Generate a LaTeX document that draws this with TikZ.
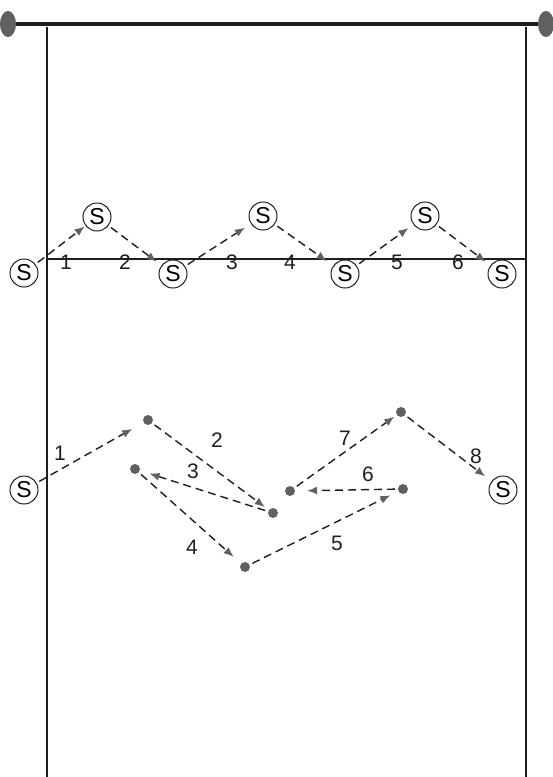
\documentclass[tikz,border=0pt]{standalone}
\usepackage{fontspec}
\setmainfont{Liberation Sans}
\usetikzlibrary{arrows.meta}
\definecolor{dotgray}{HTML}{606060}
\definecolor{tipgray}{HTML}{606060}
\definecolor{linedark}{HTML}{1E1E1E}
\begin{document}
\begin{tikzpicture}[x=1pt,y=-1pt,
  splayer/.style={circle,draw=linedark,line width=1pt,minimum size=28pt,inner sep=0pt,font=\fontsize{23}{23}\selectfont},
  dot/.style={circle,fill=dotgray,minimum size=10pt,inner sep=0pt},
  pass/.style={dash pattern=on 8pt off 5pt,line width=1.4pt,draw=linedark,
    -{Latex[length=10pt,width=8pt,color=tipgray]},shorten <=3pt},
  num/.style={font=\fontsize{21}{21}\selectfont,text=linedark,inner sep=0pt},
  court/.style={draw=linedark,line width=1.2pt}]
\useasboundingbox (0,0) rectangle (552,777);
% net
\draw[line width=4pt,draw=linedark] (8,24) -- (546,24);
\fill[dotgray] (8,24) ellipse (8 and 13);
\fill[dotgray] (546,24) ellipse (8 and 13);
% sidelines and attack line
\draw[court] (47,27) -- (47,777);
\draw[court] (526,27) -- (526,777);
\draw[court,line width=1.5pt] (47,259) -- (526,259);
% top row players
\node[splayer] (t1) at (24,273) {S};
\node[splayer] (t2) at (97,217) {S};
\node[splayer] (t3) at (173,274) {S};
\node[splayer] (t4) at (263,216) {S};
\node[splayer] (t5) at (345,274) {S};
\node[splayer] (t6) at (425,216) {S};
\node[splayer] (t7) at (502,274) {S};
\draw[pass,shorten >=1pt] (t1) -- (t2);
\draw[pass,shorten >=6pt] (t2) -- (t3);
\draw[pass,shorten >=7pt] (t3) -- (t4);
\draw[pass,shorten >=8pt] (t4) -- (t5);
\draw[pass,shorten >=6pt] (t5) -- (t6);
\draw[pass,shorten >=6pt] (t6) -- (t7);
\node[num] (n1) at (66,262) {1};
\node[num] (n2) at (125,262) {2};
\node[num] (n3) at (232,262) {3};
\node[num] (n4) at (290,262) {4};
\node[num] (n5) at (397,262) {5};
\node[num] (n6) at (458,262) {6};
% bottom sequence
\node[splayer] (bs) at (24,490) {S};
\node[dot] (a) at (148,420) {};
\node[dot] (b) at (135,469) {};
\node[dot] (c) at (273,513) {};
\node[dot] (d) at (245,567) {};
\node[dot] (e) at (290,491) {};
\node[dot] (f) at (403,489) {};
\node[dot] (g) at (401,412) {};
\node[splayer] (be) at (503,490) {S};
\draw[pass,shorten >=13pt] (bs) -- (a);
\draw[pass,shorten >=5pt] (a) -- (c);
\draw[pass,shorten >=10pt] (c) -- (b);
\draw[pass,shorten >=10pt] (b) -- (d);
\draw[pass,shorten >=9pt] (d) -- (f);
\draw[pass,shorten >=12pt] (f) -- (e);
\draw[pass,shorten >=3pt] (e) -- (g);
\draw[pass,shorten >=8pt] (g) -- (be);
\node[num] (m1) at (60,453) {1};
\node[num] (m2) at (217,440) {2};
\node[num] (m3) at (193,471) {3};
\node[num] (m4) at (192,547) {4};
\node[num] (m5) at (337,543) {5};
\node[num] (m6) at (368,474) {6};
\node[num] (m7) at (345,438) {7};
\node[num] (m8) at (476,456) {8};
\end{tikzpicture}
\end{document}
